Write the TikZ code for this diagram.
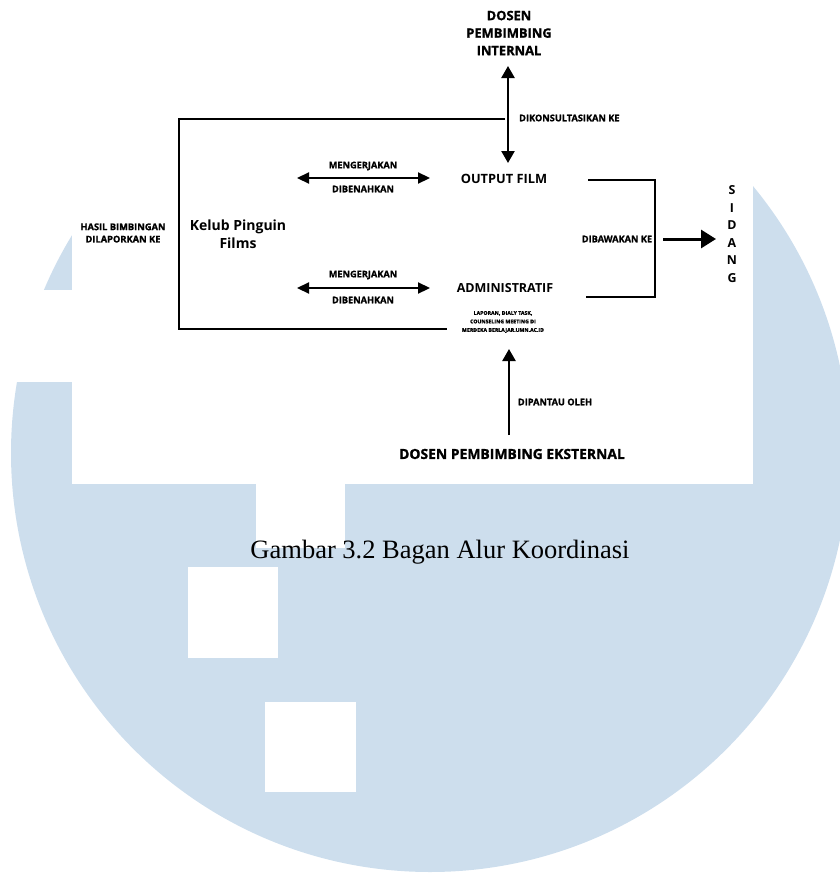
\documentclass[tikz,border=0pt]{standalone}
\usepackage{fontspec}
\setmainfont{Liberation Serif}
\newfontfamily\os{Open Sans}
\newfontfamily\osx{Open Sans}[BoldFeatures={FakeBold=1.2}]
\usetikzlibrary{arrows.meta}
\definecolor{umnblue}{RGB}{205,222,237}
\begin{document}
\begin{tikzpicture}[x=1pt,y=-1pt,
  lbl/.style={font={\osx\bfseries\fontsize{9.2}{11}\selectfont}, inner sep=0pt, align=center},
  mid/.style={font={\os\bfseries\fontsize{12.8}{15}\selectfont}, inner sep=0pt, align=center},
  heavy/.style={line width=2.8pt},
  dbl/.style={line width=2.2pt, {Triangle[length=12pt,width=11pt]}-{Triangle[length=12pt,width=11pt]}},
  vdbl/.style={line width=2.4pt, {Triangle[length=12pt,width=13pt]}-{Triangle[length=12pt,width=13pt]}},
  sgl/.style={line width=2.4pt, -{Triangle[length=12pt,width=13pt]}},
  big/.style={line width=3pt, -{Triangle[length=15pt,width=18pt]}},
  wbox/.style={fill=white, draw=none}
]
\useasboundingbox (0,0) rectangle (840,875);
% background watermark
\begin{scope}
  \clip (0,0) rectangle (840,875);
  \fill[umnblue] (430,453) circle[radius=419pt];
\end{scope}
\fill[wbox] (72,0) rectangle (753,484);
\fill[wbox] (0,290) rectangle (72,382);
\fill[wbox] (256,484) rectangle (345,548);
\fill[wbox] (188,567) rectangle (278,658);
\fill[wbox] (265,702) rectangle (356,792);

% caption
\node[anchor=base, inner sep=0pt, font={\fontsize{26.5}{30}\selectfont}] (cap) at (440,558) {Gambar 3.2 Bagan Alur Koordinasi};

% text nodes
\node[mid, font={\osx\bfseries\fontsize{12.9}{17.5}\selectfont}] (dint) at (509,33) {DOSEN\\PEMBIMBING\\INTERNAL};
\node[lbl, anchor=west] (dikon) at (519,118) {DIKONSULTASIKAN KE};
\node[lbl, font={\osx\bfseries\fontsize{9.3}{12.3}\selectfont}] (hasil) at (123,233) {HASIL BIMBINGAN\\DILAPORKAN KE};
\node[mid, font={\os\bfseries\fontsize{14}{18}\selectfont}] (kelub) at (238,234) {Kelub Pinguin\\Films};
\node[lbl] (m1) at (363,166) {MENGERJAKAN};
\node[lbl] (d1) at (363,189) {DIBENAHKAN};
\node[lbl] (m2) at (363,275) {MENGERJAKAN};
\node[lbl] (d2) at (363,300) {DIBENAHKAN};
\node[mid] (outf) at (504,179) {OUTPUT FILM};
\node[mid, font={\os\bfseries\fontsize{12.5}{15}\selectfont}] (adm) at (505,288) {ADMINISTRATIF};
\node[lbl, font={\osx\bfseries\fontsize{5.2}{8.5}\selectfont}] (lap) at (503,322) {LAPORAN, DIALY TASK,\\COUNSELING MEETING DI\\MERDEKA BERLAJAR.UMN.AC.ID};
\node[lbl] (dibaw) at (617,239) {DIBAWAKAN KE};
\node[mid, font={\os\bfseries\fontsize{12.4}{17.6}\selectfont}] (sidang) at (732,234) {S\\I\\D\\A\\N\\G};
\node[lbl] (dipan) at (555,402) {DIPANTAU OLEH};
\node[mid, font={\osx\bfseries\fontsize{13.9}{16}\selectfont}] (ekst) at (512,454) {DOSEN PEMBIMBING EKSTERNAL};

% connector coordinates
\coordinate (brTop) at (505,119);
\coordinate (brTL) at (179,119);
\coordinate (brBL) at (179,329);
\coordinate (brBot) at (447,329);
\coordinate (vTop) at (508,66);
\coordinate (vBot) at (508,163);
\coordinate (aL1) at (297,178);
\coordinate (aR1) at (430,178);
\coordinate (aL2) at (297,288);
\coordinate (aR2) at (430,288);
\coordinate (rb1) at (588,180);
\coordinate (rb2) at (655,180);
\coordinate (rb3) at (655,297);
\coordinate (rb4) at (586,297);
\coordinate (sA) at (663,239);
\coordinate (sB) at (716,239);
\coordinate (uTail) at (509,435);
\coordinate (uTip) at (509,349);

% connectors
\draw[heavy] (brTop) -- (brTL) -- (brBL) -- (brBot);
\draw[vdbl] (vTop) -- (vBot);
\draw[dbl] (aL1) -- (aR1);
\draw[dbl] (aL2) -- (aR2);
\draw[heavy] (rb1) -- (rb2) -- (rb3) -- (rb4);
\draw[big] (sA) -- (sB);
\draw[sgl] (uTail) -- (uTip);
\end{tikzpicture}
\end{document}
